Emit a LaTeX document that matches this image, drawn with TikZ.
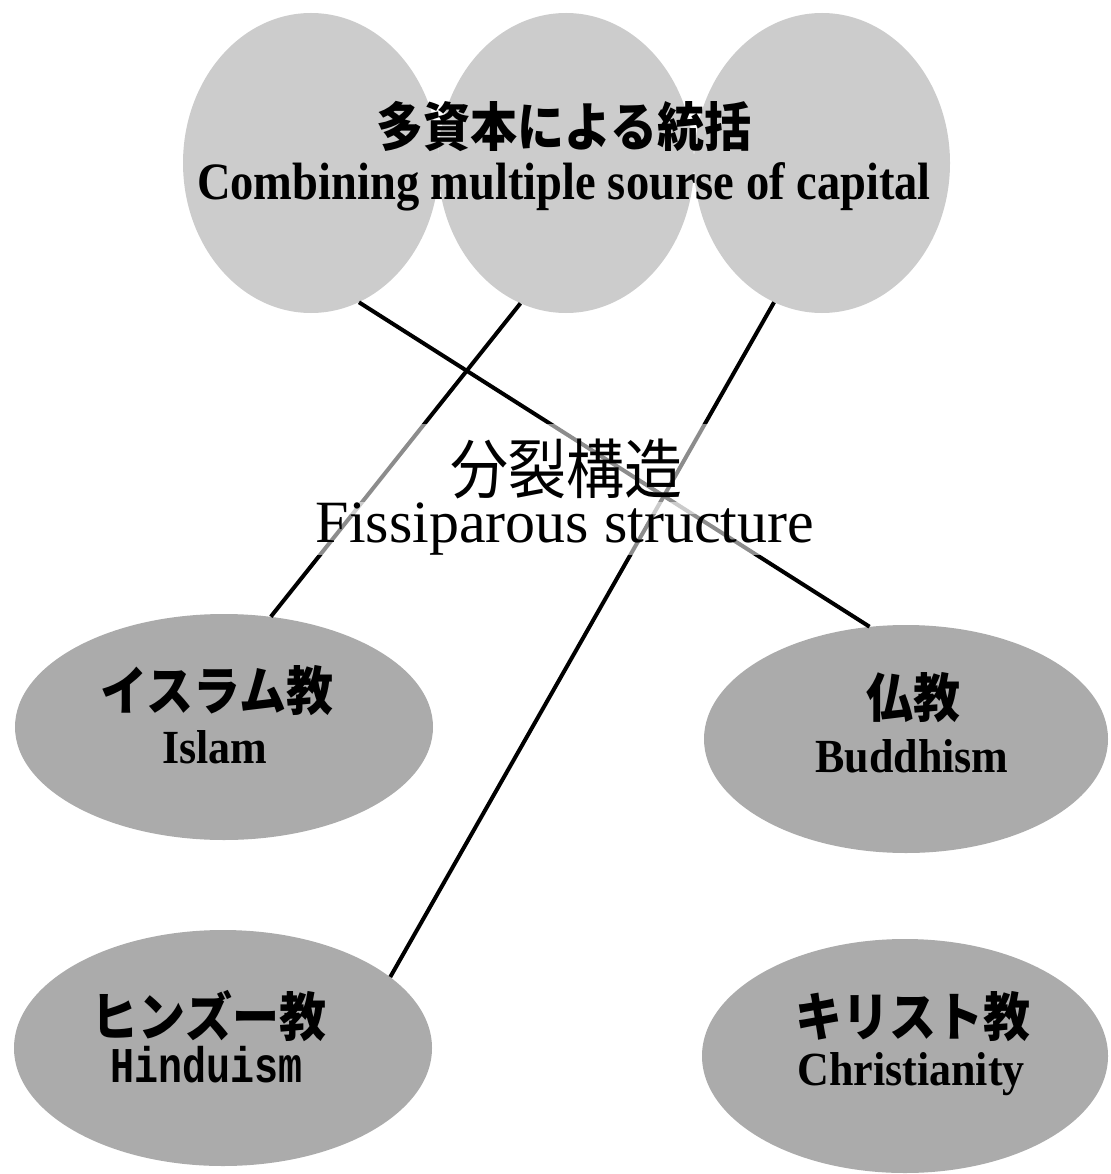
\documentclass[tikz,border=0pt]{standalone}
\usepackage{graphicx}
\usepackage{fontspec}
\setmainfont{Liberation Serif}
\newfontfamily\cjk{Noto Sans CJK JP}
\newfontfamily\monofnt{Liberation Mono}
\usetikzlibrary{shapes.geometric}
\definecolor{topgray}{gray}{0.80}
\definecolor{relgray}{gray}{0.67}
\newcommand\talljp[1]{\scalebox{1}[1.12]{#1}}
\tikzset{
  topcirc/.style={ellipse, fill=topgray, draw=none, minimum width=256pt, minimum height=300pt, inner sep=0pt},
  relell/.style={ellipse, fill=relgray, draw=none, inner sep=0pt},
  link/.style={line width=4pt, black},
  jp/.style={inner sep=0pt, font=\cjk\bfseries\fontsize{47}{50}\selectfont},
  en/.style={inner sep=0pt, anchor=base, font=\bfseries\fontsize{44}{48}\selectfont},
  midbg/.style={fill=white, fill opacity=0.55, text opacity=1, minimum width=530pt},
}
\begin{document}
\begin{tikzpicture}[x=1pt,y=-1pt]
\useasboundingbox (0,0) rectangle (1110,1174);
% top circles
\node[topcirc] (c1) at (311,163) {};
\node[topcirc] (c2) at (566,163) {};
\node[topcirc] (c3) at (822,163) {};
% religion ellipses
\node[relell, minimum width=418pt, minimum height=226pt] (isl) at (224,727) {};
\node[relell, minimum width=404pt, minimum height=228pt] (bud) at (906,739) {};
\node[relell, minimum width=418pt, minimum height=236pt] (hin) at (223,1048) {};
\node[relell, minimum width=406pt, minimum height=234pt] (chr) at (905,1056) {};
% connectors
\draw[link] (c1.-71) -- (bud.108);
\draw[link] (c2.-108) -- (isl.67);
\draw[link] (c3.-109) -- (hin.23);
% title
\node[jp] (t-jp) at (564,126) {\talljp{多資本による統括}};
\node[en, font=\bfseries\fontsize{50}{54}\selectfont] (t-en) at (564,200) {\scalebox{0.93}[1.05]{Combining multiple sourse of capital}};
% middle label
\node[midbg, inner xsep=0pt, inner ysep=15pt, font=\cjk\fontsize{58}{60}\selectfont] (m-jp) at (566,469) {\talljp{分裂構造}};
\node[midbg, anchor=base, inner xsep=0pt, inner ysep=0pt, font=\fontsize{60}{64}\selectfont] (m-en) at (565,542) {Fissiparous structure};
% labels
\node[jp] (isl-jp) at (217,691) {\talljp{イスラム教}};
\node[en] (isl-en) at (215,763) {\scalebox{1}[1.08]{Islam}};
\node[jp] (bud-jp) at (913,698) {\talljp{仏教}};
\node[en] (bud-en) at (912,772) {\scalebox{1}[1.08]{Buddhism}};
\node[jp] (hin-jp) at (209,1016) {\talljp{ヒンズー教}};
\node[en, font=\monofnt\bfseries\fontsize{40}{44}\selectfont] (hin-en) at (207,1082) {\scalebox{1}[1.25]{Hinduism}};
\node[jp] (chr-jp) at (913,1017) {\talljp{キリスト教}};
\node[en] (chr-en) at (911,1085) {\scalebox{1}[1.08]{Christianity}};
\end{tikzpicture}
\end{document}
